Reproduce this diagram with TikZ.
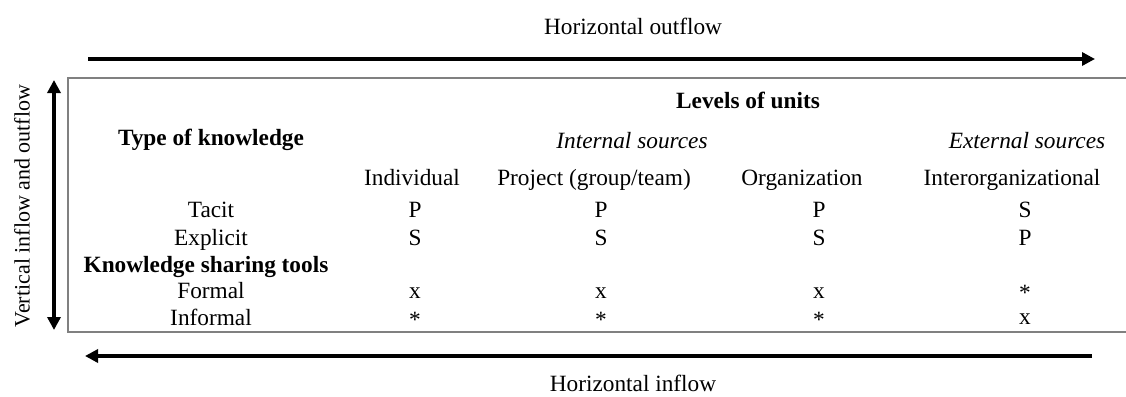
\documentclass[tikz,border=0pt]{standalone}
\usepackage{fontspec}
\setmainfont{Liberation Serif}
\usetikzlibrary{arrows.meta}
\begin{document}
\begin{tikzpicture}[x=1pt,y=-1pt,
  txt/.style={inner sep=0pt,anchor=base,font=\fontsize{23.3}{28}\selectfont},
  bld/.style={txt,font=\fontsize{23.3}{28}\selectfont\bfseries},
  itl/.style={txt,font=\fontsize{23.3}{28}\selectfont\itshape},
  flow/.style={line width=4pt,-{Triangle[length=13pt,width=13pt]}},
  dflow/.style={line width=4pt,{Triangle[length=13pt,width=13pt]}-{Triangle[length=13pt,width=13pt]}},
  boxline/.style={draw=black!50,line width=2pt}]
\useasboundingbox (0,0) rectangle (1126,396);
% frame
\coordinate (bTR) at (1130,78);
\coordinate (bTL) at (68,78);
\coordinate (bBL) at (68,332);
\coordinate (bBR) at (1130,332);
\draw[boxline] (bTR) -- (bTL) -- (bBL) -- (bBR);
% flows
\coordinate (oS) at (88,59);
\coordinate (oE) at (1095,59);
\draw[flow] (oS) -- (oE);
\node[txt] (outflow) at (633,35) {Horizontal outflow};
\coordinate (iS) at (1092,356);
\coordinate (iE) at (85,356);
\draw[flow] (iS) -- (iE);
\node[txt] (inflow) at (633,391) {Horizontal inflow};
\coordinate (vT) at (54,80);
\coordinate (vB) at (54,330);
\draw[dflow] (vB) -- (vT);
\node[inner sep=0pt,rotate=90,font=\fontsize{22}{26}\selectfont] (vert) at (22,206) {Vertical inflow and outflow};
% headers
\node[bld] (levels) at (748,108) {Levels of units};
\node[bld] (type) at (211,145) {Type of knowledge};
\node[itl] (internal) at (632,148) {Internal sources};
\node[itl] (external) at (1027,148) {External sources};
\node[txt] (c1) at (412,185) {Individual};
\node[txt] (c2) at (594,185) {Project (group/team)};
\node[txt] (c3) at (802,185) {Organization};
\node[txt] (c4) at (1012,185) {Interorganizational};
% row labels
\node[txt] (tacit) at (211,217) {Tacit};
\node[txt] (explicit) at (211,245) {Explicit};
\node[bld] (tools) at (206,272) {Knowledge sharing tools};
\node[txt] (formal) at (211,298) {Formal};
\node[txt] (informal) at (211,325) {Informal};
% values
\node[txt] (t1) at (415,217) {P};
\node[txt] (t2) at (601,217) {P};
\node[txt] (t3) at (819,217) {P};
\node[txt] (t4) at (1025,217) {S};
\node[txt] (e1) at (415,245) {S};
\node[txt] (e2) at (601,245) {S};
\node[txt] (e3) at (819,245) {S};
\node[txt] (e4) at (1025,245) {P};
\node[txt] (f1) at (415,298) {x};
\node[txt] (f2) at (601,298) {x};
\node[txt] (f3) at (819,298) {x};
\node[txt] (f4) at (1025,300) {*};
\node[txt] (i1) at (415,327) {*};
\node[txt] (i2) at (601,327) {*};
\node[txt] (i3) at (819,327) {*};
\node[txt] (i4) at (1025,324) {x};
\end{tikzpicture}
\end{document}
